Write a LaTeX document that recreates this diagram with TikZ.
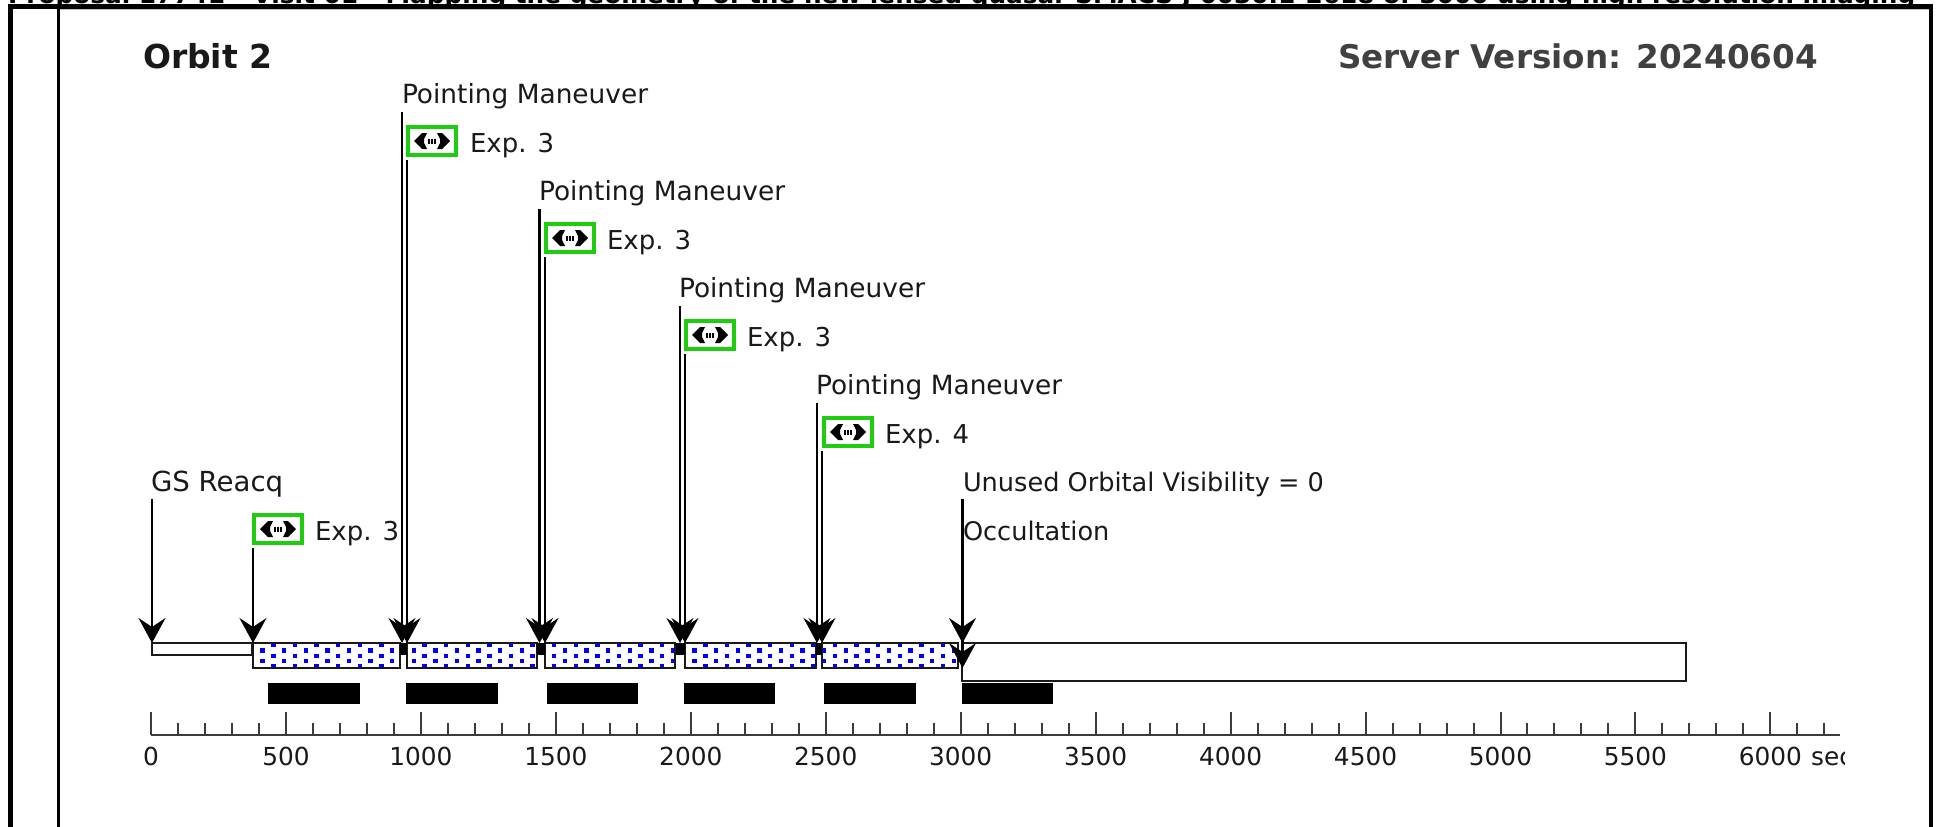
\documentclass[tikz,border=0pt]{standalone}
\usepackage{fontspec}
\setmainfont{DejaVu Sans}
\usetikzlibrary{arrows.meta}
\definecolor{expgreen}{RGB}{30,205,15}
\definecolor{axisgrey}{RGB}{60,60,60}
\definecolor{inkdark}{RGB}{25,25,25}
\definecolor{servergrey}{RGB}{64,64,64}
\tikzset{
  lbl/.style={anchor=base west,inner sep=0pt,outer sep=0pt,text=inkdark,font=\fontsize{#1}{30}\selectfont},
  lbl/.default=25.6,
  ticklbl/.style={anchor=base,inner sep=0pt,outer sep=0pt,text=inkdark,font=\fontsize{24.8}{30}\selectfont},
  titlelbl/.style={anchor=base west,inner sep=0pt,outer sep=0pt,font=\fontsize{#1}{40}\selectfont\bfseries},
  bar/.style={draw=inkdark,line width=2.4pt,fill=white,inner sep=0pt,outer sep=0pt,anchor=north west},
  blackbar/.style={fill=black,draw=none,inner sep=0pt,outer sep=0pt,anchor=north west},
  expbox/.style={draw=expgreen,line width=4.4pt,fill=white,inner sep=0pt,outer sep=0pt,minimum width=48pt,minimum height=28pt,anchor=north west},
  arr/.style={draw=black,line width=2.2pt,-{Stealth[length=25pt,width=27pt,inset=9pt]}},
  frameline/.style={fill=black,draw=none},
  tick/.style={draw=axisgrey,line width=2pt},
}
\begin{document}
\begin{tikzpicture}[x=1pt,y=-1pt]
\useasboundingbox (0,0) rectangle (1939,827);
\fill[white] (0,0) rectangle (1939,827);
% clipped header text
\begin{scope}
\clip (0,0) rectangle (1939,4.5);
\node[anchor=base west,inner sep=0pt,font=\fontsize{26}{30}\selectfont\bfseries] (header) at (8,3)
 {\resizebox{1907pt}{!}{Proposal 17741 - Visit 01 - Mapping the geometry of the new lensed quasar SMACS J 0030.1-2618 of 3000 using high resolution imaging}};
\end{scope}
% frame
\fill[frameline] (8,4) rectangle (1933,8.5);
\fill[gray!50] (60,8.5) rectangle (1929,10);
\fill[frameline] (8,4) rectangle (12.5,827);
\fill[frameline] (57,4) rectangle (60,827);
\fill[frameline] (1929,4) rectangle (1933,827);
% titles
\node[titlelbl=33,text=inkdark] (orbit) at (143,68) {Orbit 2};
\node[titlelbl=32.6,text=servergrey] (server) at (1338,68) {Server Version: 20240604};
% timeline bars
\node[bar,minimum width=100pt,minimum height=12pt] (gsbar) at (152,643) {};
\node[bar,minimum width=147pt,minimum height=25pt] (b1) at (253,643) {};
\node[bar,minimum width=130pt,minimum height=25pt] (b2) at (407,643) {};
\node[bar,minimum width=130pt,minimum height=25pt] (b3) at (545,643) {};
\node[bar,minimum width=131pt,minimum height=25pt] (b4) at (685,643) {};
\node[bar,minimum width=136pt,minimum height=25pt] (b5) at (822,643) {};
\node[bar,minimum width=724pt,minimum height=38pt] (occbar) at (962,643) {};
% blue dots
\begin{scope}
\clip (b1.north west) rectangle (b1.south east)
      (b2.north west) rectangle (b2.south east)
      (b3.north west) rectangle (b3.south east)
      (b4.north west) rectangle (b4.south east)
      (b5.north west) rectangle (b5.south east);
\foreach \n in {-28,...,6}{
  \foreach \k in {0,2,4}{
    \fill[blue] ({845.7+10.8+21.6*\n-2.2},{645+5.4*\k-2.2}) rectangle +(4.4,4.4);
  }
  \foreach \k in {1,3}{
    \fill[blue] ({845.7+21.6*\n-2.2},{645+5.4*\k-2.2}) rectangle +(4.4,4.4);
  }
}
\end{scope}
\draw[inkdark,line width=2.4pt] (b1.north west) rectangle (b1.south east)
      (b2.north west) rectangle (b2.south east)
      (b3.north west) rectangle (b3.south east)
      (b4.north west) rectangle (b4.south east)
      (b5.north west) rectangle (b5.south east);
% black separators
\fill[black] (400,643) rectangle (407,655);
\fill[black] (537,643) rectangle (545,655);
\fill[black] (676,643) rectangle (685,655);
\fill[black] (816,643) rectangle (822,655);
% black bars
\node[blackbar,minimum width=92pt,minimum height=21pt] (k1) at (268,683) {};
\node[blackbar,minimum width=92pt,minimum height=21pt] (k2) at (406,683) {};
\node[blackbar,minimum width=91pt,minimum height=21pt] (k3) at (547,683) {};
\node[blackbar,minimum width=91pt,minimum height=21pt] (k4) at (684,683) {};
\node[blackbar,minimum width=92pt,minimum height=21pt] (k5) at (824,683) {};
\node[blackbar,minimum width=91pt,minimum height=21pt] (k6) at (962,683) {};
% axis
\coordinate (axisL) at (151,735);
\coordinate (axisR) at (1840,735);
\draw[tick] (axisL) -- (axisR);
\foreach \t in {0,100,...,6200}{
  \pgfmathsetmacro{\xx}{151+0.2699*\t}
  \pgfmathtruncatemacro{\ismaj}{mod(\t,500)==0 ? 1 : 0}
  \ifnum\ismaj=1
    \draw[tick] (\xx,712) -- (\xx,735);
  \else
    \draw[tick] (\xx,723) -- (\xx,735);
  \fi
}
\foreach \t in {0,500,...,5500}{
  \pgfmathsetmacro{\xx}{151+0.2699*\t}
  \node[ticklbl] (t\t) at (\xx,765) {\t};
}
\begin{scope}
\clip (1700,740) rectangle (1844,780);
\node[ticklbl] (t6000) at (151+0.2699*6000,765) {6000};
\node[anchor=base west,inner sep=0pt,text=inkdark,font=\fontsize{24.8}{30}\selectfont] (secl) at (1811,765) {sec};
\end{scope}
% labels
\node[lbl=27.6] (gs) at (151,491) {GS Reacq};
\node[lbl=26.4] (pm1) at (402,103) {Pointing Maneuver};
\node[lbl=26.4] (pm2) at (539,200) {Pointing Maneuver};
\node[lbl=26.4] (pm3) at (679,297) {Pointing Maneuver};
\node[lbl=26.4] (pm4) at (816,394) {Pointing Maneuver};
\node[lbl=25.6] (uov) at (963,491) {Unused Orbital Visibility = 0};
\node[lbl=25.6] (occ) at (963,540) {Occultation};
% exposure boxes
\node[expbox] (e0) at (254,515) {};
\node[expbox] (e1) at (408,127) {};
\node[expbox] (e2) at (546,224) {};
\node[expbox] (e3) at (686,321) {};
\node[expbox] (e4) at (824,418) {};
\foreach \b in {e0,e1,e2,e3,e4}{
  \begin{scope}[shift={(\b.center)}]
    \fill[black] (-18,0) -- (-10,-8) -- (-5,-8) -- (-8,-2) -- (-8,2) -- (-5,8) -- (-10,8) -- cycle;
    \fill[black] (18,0) -- (10,-8) -- (5,-8) -- (8,-2) -- (8,2) -- (5,8) -- (10,8) -- cycle;
    \fill[black] (-3.9,-2.5) rectangle (-2.3,2.5);
    \fill[black] (-0.8,-2.5) rectangle (0.8,2.5);
    \fill[black] (2.3,-2.5) rectangle (3.9,2.5);
  \end{scope}
}
\node[lbl=26] (x0) at (315,540) {Exp. 3};
\node[lbl=26] (x1) at (470,152) {Exp. 3};
\node[lbl=26] (x2) at (607,249) {Exp. 3};
\node[lbl=26] (x3) at (747,346) {Exp. 3};
\node[lbl=26] (x4) at (885,443) {Exp. 4};
% connectors: free ends
\coordinate (a0s) at (152,499);   \coordinate (a0e) at (gsbar.north west);
\coordinate (a1s) at (253,548);   \coordinate (a1e) at (b1.north west);
\coordinate (p1s) at (402,112);   \coordinate (p1e) at (402,643);
\coordinate (q1s) at (407,160);   \coordinate (q1e) at (b2.north west);
\coordinate (p2s) at (539.5,209); \coordinate (p2e) at (539.5,643);
\coordinate (q2s) at (545,257);   \coordinate (q2e) at (b3.north west);
\coordinate (p3s) at (680,306);   \coordinate (p3e) at (680,643);
\coordinate (q3s) at (685,354);   \coordinate (q3e) at (b4.north west);
\coordinate (p4s) at (817,403);   \coordinate (p4e) at (817,643);
\coordinate (q4s) at (822,451);   \coordinate (q4e) at (b5.north west);
\coordinate (us) at (962.5,499);  \coordinate (ue) at (962.5,643);
\coordinate (os) at (962.5,548);  \coordinate (oe) at (962.5,668);
\foreach \s/\e in {a0s/a0e,a1s/a1e,p1s/p1e,q1s/q1e,p2s/p2e,q2s/q2e,p3s/p3e,q3s/q3e,p4s/p4e,q4s/q4e,us/ue,os/oe}{
  \draw[arr] (\s) -- (\e);
}
\end{tikzpicture}
\end{document}
